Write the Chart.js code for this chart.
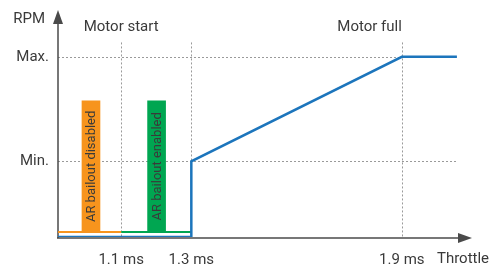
<!DOCTYPE html>
<html>
<head>
<meta charset="utf-8">
<script src="https://cdn.jsdelivr.net/npm/chart.js@4/dist/chart.umd.min.js"></script>
<style>
  html, body { margin: 0; padding: 0; background: #fff; }
  #wrap { width: 501px; height: 266px; position: relative; }
</style>
</head>
<body>
<div id="wrap"><canvas id="rpmChart"></canvas></div>
<script>
// throttle (ms) and RPM (fraction of max)
const throttleTicks = [1.1, 1.3, 1.9];
const throttleLabels = ['1.1 ms', '1.3 ms', '1.9 ms'];
const rpmTicks = [0.42, 1.0];
const rpmLabels = ['Min.', 'Max.'];

const motorX = [0.92, 1.3, 1.3, 1.9, 2.057];
const motorY = [0, 0, 0.42, 1.0, 1.0];

const disabledX = [0.92, 1.1];
const enabledX = [1.1, 1.3];
const armLevel = 0.028;

const bailoutX = [1.014, 1.201];
const bailoutTop = [0.756, 0.756];
const bailoutLabels = ['AR bailout disabled', 'AR bailout enabled'];

const FONT = "'Roboto', 'Liberation Sans', sans-serif";
const TEXT = '#3a3a3a';
const AXIS = '#4a4a4a';
const DOTS = '#9a9a9a';

const pts = (xs, ys) => xs.map((x, i) => ({ x: x, y: Array.isArray(ys) ? ys[i] : ys }));

const sketchPlugin = {
    id: 'sketch',
    beforeDatasetsDraw(chart) {
        const { ctx, scales: { x, y } } = chart;
        const x0 = x.getPixelForValue(x.min), y0 = y.getPixelForValue(0);
        const xEnd = x.getPixelForValue(motorX[motorX.length - 1]);
        ctx.save();
        // dotted guides
        ctx.strokeStyle = DOTS;
        ctx.lineWidth = 1;
        ctx.setLineDash([2, 2]);
        rpmTicks.forEach(v => {
            const py = Math.round(y.getPixelForValue(v)) + 0.5;
            ctx.beginPath(); ctx.moveTo(x0, py); ctx.lineTo(xEnd, py); ctx.stroke();
        });
        throttleTicks.forEach(v => {
            const px = Math.round(x.getPixelForValue(v)) + 0.5;
            ctx.beginPath(); ctx.moveTo(px, y.getPixelForValue(1.08)); ctx.lineTo(px, y0); ctx.stroke();
        });
        ctx.setLineDash([]);
        // axes with arrows
        ctx.strokeStyle = AXIS;
        ctx.fillStyle = AXIS;
        ctx.lineWidth = 1.5;
        const top = chart.chartArea.top, right = chart.chartArea.right;
        ctx.beginPath(); ctx.moveTo(x0, y0 + 1); ctx.lineTo(x0, top + 4); ctx.stroke();
        ctx.beginPath(); ctx.moveTo(x0 - 1, y0 + 1); ctx.lineTo(right - 4, y0 + 1); ctx.stroke();
        ctx.beginPath();
        ctx.moveTo(x0, top); ctx.lineTo(x0 - 5, top + 14); ctx.lineTo(x0 + 5, top + 14);
        ctx.closePath(); ctx.fill();
        ctx.beginPath();
        ctx.moveTo(right, y0 + 1); ctx.lineTo(right - 14, y0 - 4); ctx.lineTo(right - 14, y0 + 6);
        ctx.closePath(); ctx.fill();
        ctx.restore();
    },
    afterDatasetsDraw(chart) {
        const { ctx, scales: { x, y } } = chart;
        ctx.save();
        ctx.fillStyle = TEXT;
        // labels inside the bars
        const bars = chart.getDatasetMeta(3).data;
        ctx.font = '13px ' + FONT;
        bars.forEach((bar, i) => {
            ctx.save();
            ctx.translate(bar.x, (bar.y + bar.base) / 2);
            ctx.rotate(-Math.PI / 2);
            ctx.textAlign = 'center';
            ctx.textBaseline = 'middle';
            ctx.fillText(bailoutLabels[i], 0, 1);
            ctx.restore();
        });
        ctx.font = '15px ' + FONT;
        ctx.textBaseline = 'middle';
        ctx.textAlign = 'right';
        ctx.fillText('RPM', 45, 19);
        ctx.textAlign = 'center';
        ctx.fillText('Motor start', x.getPixelForValue(1.1), 27);
        ctx.textAlign = 'right';
        ctx.fillText('Motor full', x.getPixelForValue(1.9), 27);
        ctx.textAlign = 'center';
        ctx.fillText('Throttle', 463, 259);
        ctx.restore();
    }
};

new Chart(document.getElementById('rpmChart'), {
    type: 'line',
    data: {
        datasets: [
            {
                data: pts(motorX, motorY),
                borderColor: '#1C75BC',
                borderWidth: 2.5,
                pointRadius: 0
            },
            {
                data: pts(disabledX, armLevel),
                borderColor: '#F7941D',
                borderWidth: 2,
                pointRadius: 0
            },
            {
                data: pts(enabledX, armLevel),
                borderColor: '#00A651',
                borderWidth: 2,
                pointRadius: 0
            },
            {
                type: 'bar',
                data: bailoutX.map((x, i) => ({ x: x, y: [armLevel, bailoutTop[i]] })),
                backgroundColor: ['#F7941D', '#00A651'],
                borderWidth: 0,
                barThickness: 18
            }
        ]
    },
    options: {
        responsive: true,
        maintainAspectRatio: false,
        animation: false,
        layout: { padding: { top: 10, right: 29, left: 0, bottom: 0 } },
        plugins: { legend: { display: false }, tooltip: { enabled: false } },
        scales: {
            x: {
                type: 'linear',
                min: 0.92,
                max: 2.10,
                offset: false,
                grid: { display: false, drawTicks: false },
                border: { display: false },
                afterBuildTicks: s => { s.ticks = throttleTicks.map(v => ({ value: v })); },
                afterFit: s => { s.height = 29; s.paddingLeft = 0; s.paddingRight = 0; },
                ticks: {
                    padding: 14,
                    color: TEXT,
                    font: { family: FONT, size: 15 },
                    maxRotation: 0,
                    callback: (v, i) => throttleLabels[i]
                }
            },
            y: {
                min: 0,
                max: 1.26,
                grid: { display: false, drawTicks: false },
                border: { display: false },
                afterBuildTicks: s => { s.ticks = rpmTicks.map(v => ({ value: v })); },
                afterFit: s => { s.width = 58; s.paddingTop = 0; s.paddingBottom = 0; },
                ticks: {
                    padding: 9,
                    color: TEXT,
                    font: { family: FONT, size: 15 },
                    callback: (v, i) => rpmLabels[i]
                }
            }
        }
    },
    plugins: [sketchPlugin]
});
</script>
</body>
</html>
